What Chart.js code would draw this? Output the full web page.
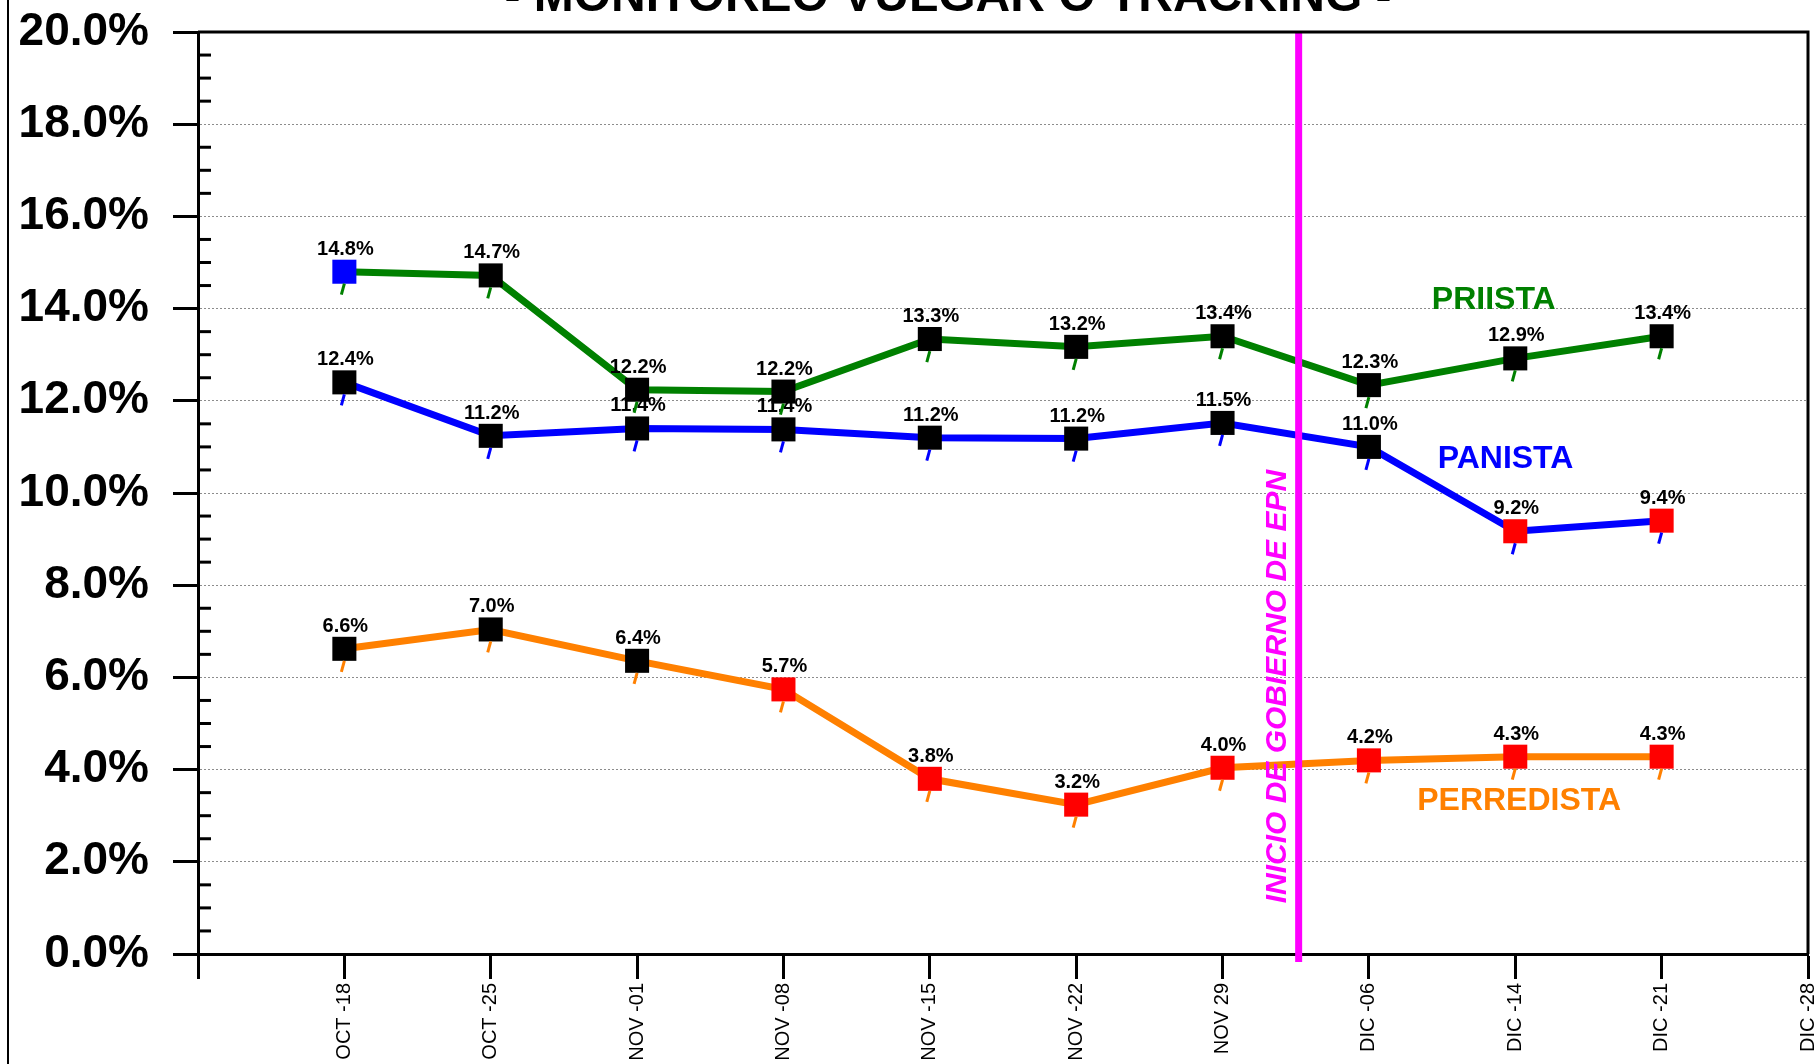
<!DOCTYPE html>
<html>
<head>
<meta charset="utf-8">
<title>Monitoreo vulgar o tracking</title>
<script src="https://cdn.jsdelivr.net/npm/chart.js@4.4.1/dist/chart.umd.min.js"></script>
<style>
  html, body { margin: 0; padding: 0; background: #fff; }
  canvas { display: block; }
</style>
</head>
<body>
<canvas id="graficoCanvas" width="1817" height="1064"></canvas>
<script>
const semanas = ['OCT -18', 'OCT -25', 'NOV -01', 'NOV -08', 'NOV -15', 'NOV -22', 'NOV 29', 'DIC -06', 'DIC -14', 'DIC -21', 'DIC -28'];
const priista = [14.8, 14.72, 12.24, 12.2, 13.34, 13.17, 13.4, 12.34, 12.92, 13.4];
const panista = [12.4, 11.24, 11.4, 11.38, 11.2, 11.18, 11.52, 11.0, 9.17, 9.4];
const perredista = [6.62, 7.04, 6.36, 5.74, 3.8, 3.24, 4.04, 4.2, 4.28, 4.28];

// color de cada marcador cuadrado
const marcasPri = ['#0000FF', '#000', '#000', '#000', '#000', '#000', '#000', '#000', '#000', '#000'];
const marcasPan = ['#000', '#000', '#000', '#000', '#000', '#000', '#000', '#000', '#FF0000', '#FF0000'];
const marcasPrd = ['#000', '#000', '#000', '#FF0000', '#FF0000', '#FF0000', '#FF0000', '#FF0000', '#FF0000', '#FF0000'];

const inicioGobierno = 7.52; // posicion en el eje x (entre NOV 29 y DIC -06)

const fuente = "'Liberation Sans', Arial, sans-serif";
const etiquetas = [''].concat(semanas);
const serie = valores => [null].concat(valores, [null]);
const marcas = colores => ['#000'].concat(colores, ['#000']);

const nombres = [
    { texto: 'PRIISTA', color: '#008000', x: 8.43, y: 14.0 },
    { texto: 'PANISTA', color: '#0000FF', x: 8.47, y: 10.54 },
    { texto: 'PERREDISTA', color: '#FF8000', x: 8.33, y: 3.12 }
];

const decoraciones = {
    id: 'decoraciones',
    afterDatasetDraw(chart, args) {
        const ctx = chart.ctx;
        const ds = chart.data.datasets[args.index];
        ctx.save();
        args.meta.data.forEach((p, i) => {
            const v = ds.data[i];
            if (v === null || v === undefined) return;
            ctx.strokeStyle = ds.borderColor;
            ctx.lineWidth = 3;
            ctx.beginPath();
            ctx.moveTo(p.x, p.y + 12);
            ctx.lineTo(p.x - 3, p.y + 23);
            ctx.stroke();
            ctx.fillStyle = '#000';
            ctx.font = 'bold 20px ' + fuente;
            ctx.textAlign = 'center';
            ctx.textBaseline = 'alphabetic';
            ctx.fillText(v.toFixed(1) + '%', p.x + 1, p.y - 17);
        });
        ctx.restore();
    },
    afterDatasetsDraw(chart) {
        const ctx = chart.ctx;
        const x = chart.scales.x;
        const y = chart.scales.y;
        const area = chart.chartArea;
        ctx.save();
        // linea de inicio de gobierno
        const xl = x.getPixelForValue(inicioGobierno);
        ctx.strokeStyle = '#FF00FF';
        ctx.lineWidth = 7;
        ctx.beginPath();
        ctx.moveTo(xl, area.top);
        ctx.lineTo(xl, area.bottom + 8);
        ctx.stroke();
        ctx.translate(x.getPixelForValue(inicioGobierno - 0.14), y.getPixelForValue(5.8));
        ctx.rotate(-Math.PI / 2);
        ctx.fillStyle = '#FF00FF';
        ctx.font = 'italic bold 30px ' + fuente;
        ctx.textAlign = 'center';
        ctx.textBaseline = 'middle';
        ctx.fillText('INICIO DE GOBIERNO DE EPN', 0, 0);
        ctx.restore();

        ctx.save();
        ctx.font = 'bold 32px ' + fuente;
        ctx.textAlign = 'left';
        nombres.forEach(n => {
            ctx.fillStyle = n.color;
            ctx.fillText(n.texto, x.getPixelForValue(n.x), y.getPixelForValue(n.y));
        });
        ctx.restore();
    },
    afterDraw(chart) {
        const ctx = chart.ctx;
        const y = chart.scales.y;
        const area = chart.chartArea;
        ctx.save();
        ctx.strokeStyle = '#000';
        ctx.lineWidth = 3;
        ctx.beginPath();
        ctx.moveTo(area.left, area.top);
        ctx.lineTo(area.right, area.top);
        ctx.lineTo(area.right, area.bottom);
        ctx.stroke();
        // marcas menores del eje y
        for (let v = 0.5; v < 20; v += 0.5) {
            if (v % 2 === 0) continue;
            const py = y.getPixelForValue(v);
            ctx.beginPath();
            ctx.moveTo(area.left, py);
            ctx.lineTo(area.left + 13, py);
            ctx.stroke();
        }
        // borde izquierdo del grafico
        ctx.lineWidth = 2;
        ctx.beginPath();
        ctx.moveTo(8, 0);
        ctx.lineTo(8, chart.height);
        ctx.stroke();
        // titulo
        ctx.fillStyle = '#000';
        ctx.font = 'bold 48px ' + fuente;
        ctx.textAlign = 'center';
        ctx.textBaseline = 'alphabetic';
        ctx.fillText('- MONITOREO VULGAR O TRACKING -', 948, 11);
        ctx.restore();
    }
};

const ctx = document.getElementById('graficoCanvas').getContext('2d');
new Chart(ctx, {
    type: 'line',
    data: {
        labels: etiquetas,
        datasets: [
            {
                label: 'PRIISTA',
                data: serie(priista),
                borderColor: '#008000',
                pointBackgroundColor: marcas(marcasPri),
                pointBorderColor: marcas(marcasPri)
            },
            {
                label: 'PANISTA',
                data: serie(panista),
                borderColor: '#0000FF',
                pointBackgroundColor: marcas(marcasPan),
                pointBorderColor: marcas(marcasPan)
            },
            {
                label: 'PERREDISTA',
                data: serie(perredista),
                borderColor: '#FF8000',
                pointBackgroundColor: marcas(marcasPrd),
                pointBorderColor: marcas(marcasPrd)
            }
        ]
    },
    options: {
        responsive: false,
        animation: false,
        devicePixelRatio: 1,
        layout: { autoPadding: false, padding: { left: 0, top: 32, right: 9, bottom: 0 } },
        elements: {
            line: { borderWidth: 7, tension: 0, fill: false },
            point: { pointStyle: 'rect', radius: 17, borderWidth: 0, hoverRadius: 17 }
        },
        plugins: {
            legend: { display: false },
            title: { display: false },
            tooltip: { enabled: false }
        },
        scales: {
            x: {
                offset: false,
                afterFit: scale => {
                    scale.height = 110;
                    scale.paddingLeft = 0;
                    scale.paddingRight = 0;
                },
                grid: {
                    drawOnChartArea: false,
                    drawTicks: true,
                    tickLength: 25,
                    tickWidth: 3,
                    tickColor: '#000'
                },
                border: { color: '#000', width: 3 },
                ticks: {
                    autoSkip: false,
                    minRotation: 90,
                    maxRotation: 90,
                    padding: 4,
                    color: '#000',
                    font: { family: fuente, size: 20 }
                }
            },
            y: {
                min: 0,
                max: 20,
                afterFit: scale => {
                    scale.width = 198;
                    scale.paddingTop = 0;
                    scale.paddingBottom = 0;
                },
                grid: {
                    color: c => (c.tick && c.tick.value > 0 && c.tick.value < 20) ? '#8c8c8c' : 'rgba(0,0,0,0)',
                    lineWidth: 1,
                    tickLength: 25,
                    tickWidth: 3,
                    tickColor: '#000'
                },
                border: { color: '#000', width: 3, dash: [2, 2] },
                ticks: {
                    stepSize: 2,
                    padding: 24,
                    color: '#000',
                    font: { family: fuente, size: 46, weight: 'bold' },
                    callback: v => v.toFixed(1) + '%'
                }
            }
        }
    },
    plugins: [decoraciones]
});
</script>
</body>
</html>
